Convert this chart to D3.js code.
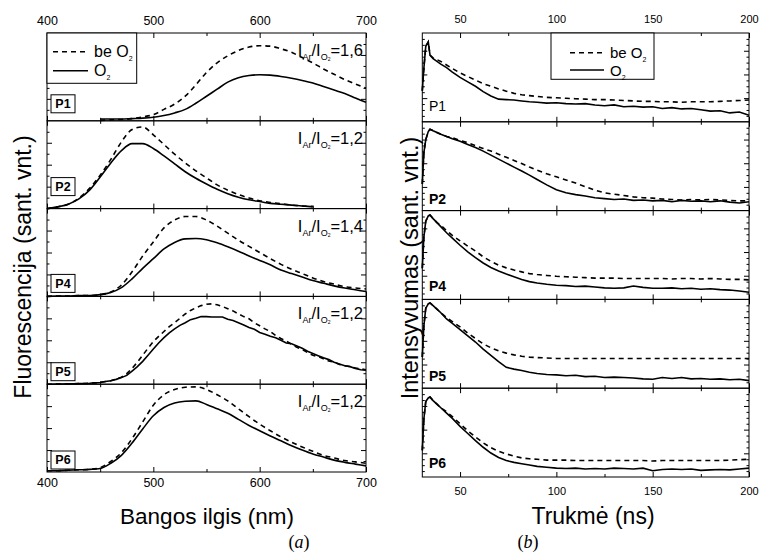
<!DOCTYPE html>
<html>
<head>
<meta charset="utf-8">
<script src="https://cdn.jsdelivr.net/npm/d3@7"></script>
<style>
body { margin: 0; background: #fff; }
text { font-family: "Liberation Sans", Arial, sans-serif; fill: #000; }
</style>
</head>
<body>
<script>
// ---- data: (a) fluorescence spectra, values are fractions of each panel height ----
var sampleNames = ["P1", "P2", "P4", "P5", "P6"];
var ratioLabels = ["1,6", "1,2", "1,4", "1,2", "1,2"];

var wlP1 = [450,460,470,480,490,500,510,520,530,540,550,560,570,580,590,600,610,620,630,640,650,660,670,680,690,700];
var specP1NoO2 = [0.005,0.01,0.015,0.025,0.045,0.07,0.13,0.19,0.28,0.41,0.55,0.66,0.74,0.80,0.84,0.855,0.85,0.82,0.78,0.72,0.66,0.59,0.53,0.47,0.42,0.37];
var specP1O2   = [0.02,0.02,0.02,0.025,0.03,0.04,0.06,0.09,0.13,0.20,0.28,0.36,0.44,0.49,0.515,0.525,0.52,0.505,0.485,0.46,0.43,0.39,0.35,0.31,0.26,0.21];

var wlP2 = [400,410,420,430,440,450,460,470,480,490,500,510,520,530,540,550,560,570,580,590,600,610,620,630,640,650];
var specP2NoO2 = [0,0.02,0.05,0.12,0.23,0.38,0.56,0.76,0.90,0.93,0.84,0.73,0.62,0.52,0.43,0.35,0.27,0.21,0.16,0.12,0.09,0.07,0.055,0.04,0.03,0.025];
var specP2O2   = [0,0.02,0.05,0.11,0.21,0.36,0.52,0.66,0.74,0.74,0.685,0.60,0.51,0.42,0.345,0.28,0.22,0.17,0.13,0.10,0.08,0.06,0.05,0.04,0.03,0.02];

var wlFull = [400,410,420,430,440,450,460,470,480,490,500,510,520,530,540,550,560,570,580,590,600,610,620,630,640,650,660,670,680,690,700];
var specP4NoO2 = [0,0.005,0.005,0.01,0.01,0.02,0.05,0.13,0.28,0.46,0.62,0.78,0.87,0.91,0.91,0.87,0.80,0.72,0.64,0.57,0.50,0.43,0.365,0.31,0.26,0.21,0.17,0.14,0.11,0.095,0.085];
var specP4O2   = [0,0.005,0.005,0.01,0.01,0.02,0.045,0.10,0.20,0.32,0.43,0.54,0.615,0.655,0.66,0.645,0.61,0.565,0.515,0.46,0.41,0.36,0.30,0.26,0.22,0.18,0.15,0.12,0.095,0.075,0.055];

var wlP5 = [400,405,410,415,420,425,430,435,440,445,450,455,460,465,470,475,480,485,490,495,500,505,510,515,520,525,530,535,540,545,550,555,560,565,570,575,580,585,590,595,600,605,610,615,620,625,630,635,640,645,650,655,660,665,670,675,680,685,690,695,700];
var specP5NoO2 = [0,0,0.003,0.003,0.005,0.005,0.006,0.008,0.01,0.015,0.02,0.03,0.04,0.06,0.08,0.12,0.18,0.25,0.33,0.41,0.485,0.545,0.60,0.655,0.70,0.75,0.80,0.84,0.87,0.895,0.91,0.915,0.905,0.885,0.86,0.835,0.80,0.77,0.745,0.70,0.665,0.63,0.60,0.555,0.52,0.49,0.455,0.42,0.395,0.36,0.33,0.315,0.29,0.265,0.25,0.225,0.21,0.20,0.185,0.175,0.165];
var specP5O2   = [0,0,0.003,0.002,0.005,0.004,0.006,0.008,0.01,0.015,0.02,0.03,0.04,0.055,0.075,0.10,0.15,0.20,0.26,0.33,0.40,0.47,0.53,0.585,0.63,0.67,0.70,0.735,0.75,0.77,0.77,0.765,0.765,0.765,0.74,0.725,0.70,0.675,0.645,0.625,0.59,0.57,0.545,0.53,0.50,0.47,0.46,0.435,0.41,0.375,0.35,0.325,0.30,0.28,0.25,0.23,0.21,0.20,0.18,0.165,0.16];

var specP6NoO2 = [0.015,0.015,0.02,0.025,0.03,0.05,0.12,0.22,0.38,0.57,0.76,0.88,0.94,0.965,0.97,0.94,0.88,0.81,0.72,0.63,0.545,0.47,0.40,0.34,0.285,0.235,0.19,0.16,0.13,0.115,0.10];
var specP6O2   = [0.015,0.015,0.02,0.025,0.03,0.04,0.10,0.19,0.33,0.49,0.64,0.735,0.785,0.805,0.81,0.77,0.72,0.67,0.60,0.53,0.47,0.41,0.355,0.30,0.25,0.205,0.17,0.135,0.11,0.09,0.07];

// ---- data: (b) decay kinetics, time in ns ----
var tNs = [30.4,31.2,32.2,33.5,34.4,36,38,40,43,46,50,54,58,62,66,70,74,78,82,86,90,95,100,105,110,115,120,125,130,135,140,145,150,155,160,165,170,175,180,185,190,195,200];
var decP1NoO2 = [0.35,0.6,0.85,0.90,0.75,0.72,0.70,0.68,0.64,0.60,0.55,0.51,0.47,0.43,0.40,0.37,0.345,0.32,0.305,0.295,0.285,0.275,0.27,0.265,0.26,0.255,0.25,0.25,0.245,0.24,0.235,0.23,0.23,0.225,0.225,0.22,0.225,0.225,0.225,0.23,0.235,0.24,0.245];
var decP1O2   = [0.35,0.6,0.85,0.90,0.75,0.71,0.68,0.65,0.61,0.56,0.50,0.45,0.40,0.34,0.29,0.255,0.25,0.245,0.235,0.225,0.22,0.21,0.215,0.205,0.20,0.205,0.19,0.18,0.19,0.17,0.175,0.165,0.17,0.15,0.16,0.145,0.15,0.135,0.12,0.125,0.10,0.11,0.075];
var decP2NoO2 = [0.3,0.65,0.80,0.89,0.917,0.90,0.88,0.86,0.835,0.82,0.79,0.765,0.73,0.70,0.67,0.635,0.60,0.565,0.53,0.49,0.455,0.415,0.38,0.345,0.31,0.27,0.23,0.20,0.185,0.17,0.155,0.145,0.14,0.13,0.125,0.12,0.125,0.12,0.125,0.12,0.115,0.11,0.11];
var decP2O2   = [0.3,0.65,0.80,0.89,0.917,0.90,0.88,0.86,0.835,0.81,0.78,0.745,0.71,0.67,0.625,0.58,0.535,0.49,0.445,0.40,0.35,0.29,0.235,0.20,0.18,0.165,0.145,0.135,0.125,0.13,0.115,0.12,0.11,0.115,0.10,0.115,0.105,0.11,0.10,0.11,0.095,0.085,0.10];
var decP4NoO2 = [0.35,0.7,0.88,0.94,0.95,0.91,0.865,0.835,0.775,0.72,0.66,0.60,0.545,0.48,0.43,0.385,0.355,0.33,0.31,0.29,0.28,0.27,0.26,0.255,0.25,0.245,0.24,0.24,0.24,0.235,0.235,0.235,0.235,0.235,0.23,0.235,0.235,0.23,0.235,0.23,0.225,0.225,0.22];
var decP4O2   = [0.35,0.7,0.88,0.94,0.95,0.91,0.865,0.82,0.75,0.69,0.61,0.535,0.47,0.41,0.36,0.32,0.285,0.255,0.225,0.20,0.185,0.17,0.16,0.155,0.145,0.15,0.14,0.13,0.125,0.13,0.15,0.135,0.125,0.125,0.13,0.12,0.125,0.115,0.12,0.11,0.105,0.095,0.08];
var decP5NoO2 = [0.35,0.7,0.90,0.95,0.96,0.93,0.89,0.85,0.795,0.75,0.69,0.62,0.56,0.50,0.455,0.42,0.395,0.375,0.36,0.35,0.345,0.34,0.335,0.335,0.335,0.335,0.335,0.335,0.335,0.335,0.335,0.335,0.335,0.335,0.335,0.335,0.335,0.335,0.335,0.335,0.335,0.335,0.335];
var decP5O2   = [0.35,0.7,0.90,0.95,0.96,0.93,0.89,0.85,0.78,0.73,0.66,0.59,0.52,0.44,0.37,0.30,0.235,0.215,0.20,0.18,0.165,0.155,0.15,0.14,0.145,0.13,0.135,0.12,0.125,0.12,0.115,0.105,0.10,0.12,0.11,0.12,0.105,0.11,0.10,0.105,0.095,0.10,0.085];
var decP6NoO2 = [0.3,0.65,0.85,0.89,0.90,0.86,0.82,0.78,0.735,0.68,0.60,0.52,0.45,0.385,0.33,0.29,0.26,0.235,0.215,0.205,0.20,0.19,0.19,0.19,0.185,0.185,0.185,0.185,0.185,0.185,0.185,0.185,0.18,0.185,0.185,0.185,0.185,0.185,0.185,0.185,0.19,0.195,0.20];
var decP6O2   = [0.3,0.65,0.85,0.89,0.90,0.86,0.82,0.78,0.72,0.66,0.57,0.49,0.41,0.335,0.27,0.22,0.185,0.165,0.15,0.135,0.12,0.11,0.10,0.095,0.10,0.09,0.095,0.09,0.10,0.095,0.09,0.10,0.07,0.085,0.09,0.085,0.09,0.075,0.08,0.085,0.08,0.09,0.10];

var wlTicks = [400, 500, 600, 700], wlMinor = [450, 550, 650];
var tTicks = [50, 100, 150, 200], tMinor = [75, 125, 175];

var spectra = [
  {x: wlP1, a: specP1NoO2, b: specP1O2},
  {x: wlP2, a: specP2NoO2, b: specP2O2},
  {x: wlFull, a: specP4NoO2, b: specP4O2},
  {x: wlP5, a: specP5NoO2, b: specP5O2},
  {x: wlFull, a: specP6NoO2, b: specP6O2}
];
var decays = [
  {a: decP1NoO2, b: decP1O2}, {a: decP2NoO2, b: decP2O2}, {a: decP4NoO2, b: decP4O2},
  {a: decP5NoO2, b: decP5O2}, {a: decP6NoO2, b: decP6O2}
];

var svg = d3.select("body").append("svg")
    .attr("width", 761)
    .attr("height", 553);

// draw tick marks for one small panel (all ticks point inwards)
function frameTicks(g, x, y, h, xMaj, xMin, yMaj, yMin) {
  var w = x.range()[1] - x.range()[0];
  function tk(axis, vals, len, tr) {
    g.append("g").attr("transform", tr)
      .call(axis.tickValues(vals).tickSize(-len).tickFormat(""))
      .call(function(s) { s.select(".domain").remove(); s.selectAll("line").attr("stroke", "#000"); });
  }
  tk(d3.axisBottom(x), xMaj, 5, "translate(0," + (h) + ")");
  tk(d3.axisBottom(x), xMin, 3, "translate(0," + (h) + ")");
  tk(d3.axisTop(x), xMaj, 5, "translate(0,0)");
  tk(d3.axisTop(x), xMin, 3, "translate(0,0)");
  tk(d3.axisLeft(y), yMaj, 5, "translate(" + x.range()[0] + ",0)");
  tk(d3.axisLeft(y), yMin, 2.5, "translate(" + x.range()[0] + ",0)");
  tk(d3.axisRight(y), yMaj, 5, "translate(" + x.range()[1] + ",0)");
  tk(d3.axisRight(y), yMin, 2.5, "translate(" + x.range()[1] + ",0)");
  g.append("rect").attr("x", x.range()[0]).attr("y", 0).attr("width", w).attr("height", h)
    .attr("fill", "none").attr("stroke", "#000").attr("stroke-width", 1);
}

function drawCurve(g, line, data, dashed) {
  g.append("path")
    .attr("d", line(data))
    .attr("fill", "none")
    .attr("stroke", "#000")
    .attr("stroke-width", 1.6)
    .attr("stroke-dasharray", dashed ? "5,4" : null);
}

// ============ (a) spectra ============
var aTop = 33, aBottom = 472, aH = (aBottom - aTop) / 5;
var xA = d3.scaleLinear().domain([400, 700]).range([47, 366]);
var boxBottoms = [8, 13, 4, 3.5, 3];

spectra.forEach(function(s, i) {
  var g = svg.append("g").attr("transform", "translate(0," + (aTop + i * aH) + ")");
  var y = d3.scaleLinear().domain([0, 1]).range([aH, 0]);
  var line = d3.line()
      .x(function(d) { return xA(d[0]); })
      .y(function(d) { return y(d[1]); })
      .curve(i === 3 ? d3.curveLinear : d3.curveMonotoneX);
  drawCurve(g, line, s.x.map(function(v, k) { return [v, s.a[k]]; }), true);
  drawCurve(g, line, s.x.map(function(v, k) { return [v, s.b[k]]; }), false);
  frameTicks(g, xA, y, aH, wlTicks, wlMinor, [0.25, 0.5, 0.75], [0.125, 0.375, 0.625, 0.875]);

  // boxed sample label
  var bb = aH - boxBottoms[i];
  g.append("rect").attr("x", 51).attr("y", bb - 18).attr("width", 24).attr("height", 18)
    .attr("fill", "#fff").attr("stroke", "#000").attr("stroke-width", 1);
  g.append("text").attr("x", 63).attr("y", bb - 4.5).attr("text-anchor", "middle")
    .style("font-size", "12.5px").style("font-weight", "bold").text(sampleNames[i]);

  // ratio label I_Ar/I_O2
  var t = g.append("text").attr("x", 363).attr("y", 23).attr("text-anchor", "end").style("font-size", "16.5px");
  t.append("tspan").text("I");
  t.append("tspan").attr("dy", 4).style("font-size", "9px").text("Ar");
  t.append("tspan").attr("dy", -4).text("/I");
  t.append("tspan").attr("dy", 4).style("font-size", "9px").text("O");
  t.append("tspan").attr("dy", 1).style("font-size", "5px").text("2");
  t.append("tspan").attr("dy", -5).text("=" + ratioLabels[i]);
});

// outer tick labels
svg.append("g").attr("transform", "translate(0," + aTop + ")")
  .call(d3.axisTop(xA).tickValues(wlTicks).tickSize(0).tickPadding(8))
  .call(function(s) { s.select(".domain").remove(); s.selectAll("text").style("font-size", "12.5px").style("font-family", "Liberation Sans, Arial"); });
svg.append("g").attr("transform", "translate(0," + aBottom + ")")
  .call(d3.axisBottom(xA).tickValues(wlTicks).tickSize(0).tickPadding(6))
  .call(function(s) { s.select(".domain").remove(); s.selectAll("text").style("font-size", "12.5px").style("font-family", "Liberation Sans, Arial"); });

// legend (a)
var legA = svg.append("g");
legA.append("rect").attr("x", 47).attr("y", 33).attr("width", 89.7).attr("height", 50.3)
  .attr("fill", "#fff").attr("stroke", "#000");
function legendRows(g, x0, x1, yDash, ySolid, fs) {
  g.append("line").attr("x1", x0).attr("x2", x1).attr("y1", yDash).attr("y2", yDash)
    .attr("stroke", "#000").attr("stroke-width", 1.6).attr("stroke-dasharray", "5,4");
  g.append("line").attr("x1", x0).attr("x2", x1).attr("y1", ySolid).attr("y2", ySolid)
    .attr("stroke", "#000").attr("stroke-width", 1.6);
  var t1 = g.append("text").attr("x", x1 + 6).attr("y", yDash + 5.5).style("font-size", fs + "px");
  t1.append("tspan").text("be O");
  t1.append("tspan").attr("dy", 4).style("font-size", "7px").text("2");
  var t2 = g.append("text").attr("x", x1 + 6).attr("y", ySolid + 5.5).style("font-size", fs + "px");
  t2.append("tspan").text("O");
  t2.append("tspan").attr("dy", 4).style("font-size", "7px").text("2");
}
legendRows(legA, 53, 88, 51.7, 70.7, 16);

svg.append("text").attr("transform", "translate(31,267) rotate(-90)").attr("text-anchor", "middle")
  .style("font-size", "23px").text("Fluorescencija (sant. vnt.)");
svg.append("text").attr("x", 207).attr("y", 524).attr("text-anchor", "middle")
  .style("font-size", "22.5px").text("Bangos ilgis (nm)");
var capA = svg.append("text").attr("x", 299).attr("y", 548).attr("text-anchor", "middle").style("font-size", "18px");
capA.append("tspan").style("font-family", "Liberation Serif, serif").text("(");
capA.append("tspan").style("font-family", "Liberation Serif, serif").style("font-style", "italic").text("a");
capA.append("tspan").style("font-family", "Liberation Serif, serif").text(")");

// ============ (b) decays ============
var bTop = 33, bBottom = 477, bH = (bBottom - bTop) / 5;
var xB = d3.scaleLinear().domain([30.4, 200]).range([422.3, 749]);
var labelBase = [10.8, 6.6, 8.4, 7.5, 8.7];
var yMajB = [4 / 15, 8 / 15, 12 / 15];
var yMinB = d3.range(1, 15).filter(function(k) { return k % 4 !== 0; }).map(function(k) { return k / 15; });

decays.forEach(function(s, i) {
  var g = svg.append("g").attr("transform", "translate(0," + (bTop + i * bH) + ")");
  var y = d3.scaleLinear().domain([0, 1]).range([bH, 0]);
  var line = d3.line()
      .x(function(d) { return xB(d[0]); })
      .y(function(d) { return y(d[1]); });
  drawCurve(g, line, tNs.map(function(v, k) { return [v, s.a[k]]; }), true);
  drawCurve(g, line, tNs.map(function(v, k) { return [v, s.b[k]]; }), false);
  frameTicks(g, xB, y, bH, tTicks, tMinor, yMajB, yMinB);
  g.append("text").attr("x", 429).attr("y", bH - labelBase[i])
    .style("font-size", "14px").style("font-weight", i === 0 ? "normal" : "bold").text(sampleNames[i]);
});

svg.append("g").attr("transform", "translate(0," + bTop + ")")
  .call(d3.axisTop(xB).tickValues(tTicks).tickSize(0).tickPadding(10))
  .call(function(s) { s.select(".domain").remove(); s.selectAll("text").style("font-size", "11px").style("font-family", "Liberation Sans, Arial"); });
svg.append("g").attr("transform", "translate(0," + bBottom + ")")
  .call(d3.axisBottom(xB).tickValues(tTicks).tickSize(0).tickPadding(10))
  .call(function(s) { s.select(".domain").remove(); s.selectAll("text").style("font-size", "11px").style("font-family", "Liberation Sans, Arial"); });

var legB = svg.append("g");
legB.append("rect").attr("x", 551).attr("y", 33).attr("width", 103).attr("height", 46.3)
  .attr("fill", "#fff").attr("stroke", "#000");
legendRows(legB, 570, 604, 52.7, 70, 15);

svg.append("text").attr("transform", "translate(418,268) rotate(-90)").attr("text-anchor", "middle")
  .style("font-size", "23.5px").text("Intensyvumas (sant. vnt.)");
svg.append("text").attr("x", 593).attr("y", 524).attr("text-anchor", "middle")
  .style("font-size", "23px").text("Trukmė (ns)");
var capB = svg.append("text").attr("x", 528).attr("y", 548).attr("text-anchor", "middle").style("font-size", "18px");
capB.append("tspan").style("font-family", "Liberation Serif, serif").text("(");
capB.append("tspan").style("font-family", "Liberation Serif, serif").style("font-style", "italic").text("b");
capB.append("tspan").style("font-family", "Liberation Serif, serif").text(")");
</script>
</body>
</html>
